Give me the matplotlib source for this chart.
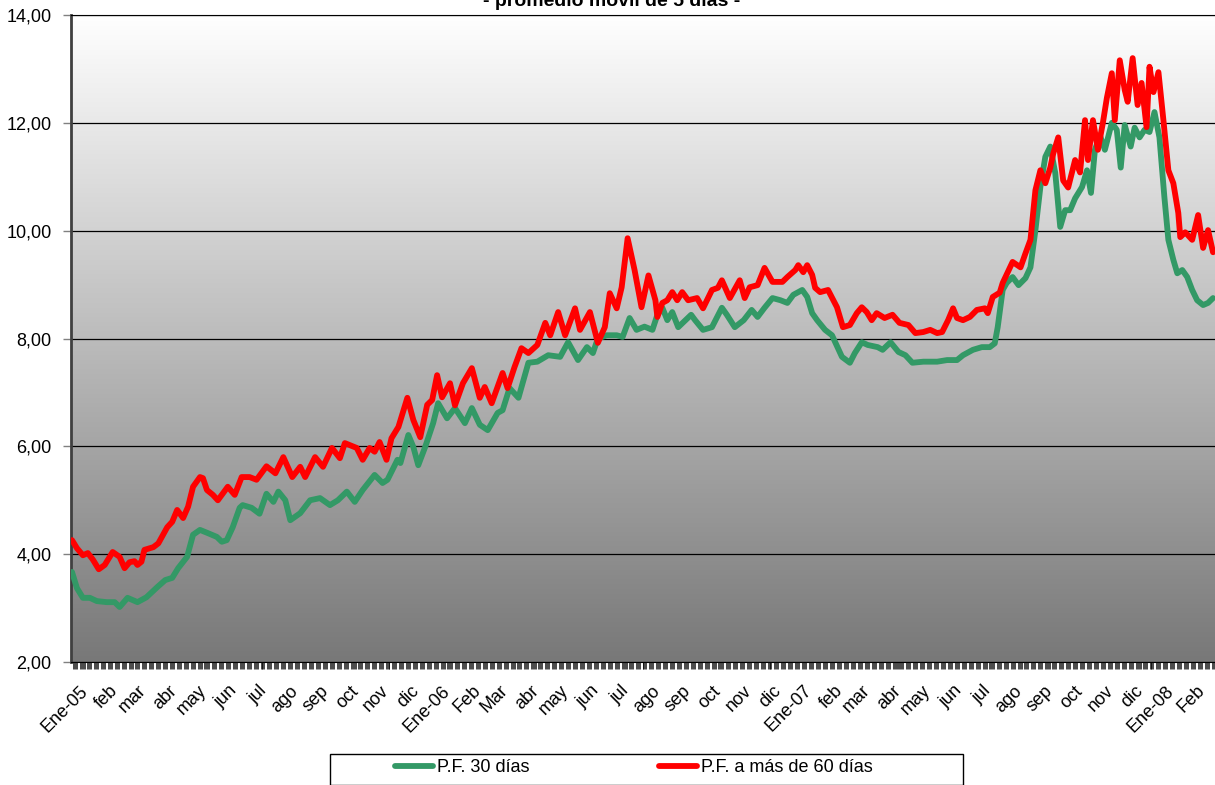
import numpy as np
import pandas as pd
import matplotlib
matplotlib.use("Agg")
import matplotlib.pyplot as plt
import matplotlib.dates as mdates
from matplotlib.colors import LinearSegmentedColormap
from matplotlib.patches import Rectangle
from matplotlib.ticker import FuncFormatter

plt.rcParams['font.family'] = ['Liberation Sans', 'DejaVu Sans']

# --- datos (días desde 01-01-2005, tasa) ---
inicio = pd.Timestamp('2005-01-01')

dias_30 = [-13, -8, -2, 5, 12, 22, 30, 35, 43, 53, 62, 73, 81, 88, 94, 103, 109, 116, 124, 133,
           138, 143, 149, 156, 159, 168, 176, 183, 190, 195, 202, 207, 217, 227, 237, 247, 255, 264,
           272, 280, 292, 300, 305, 315, 318, 326, 331, 336, 343, 351, 356, 365, 373, 383, 390, 398,
           406, 416, 421, 428, 437, 447, 456, 467, 479, 487, 497, 506, 512, 517, 526, 536, 542, 549,
           556, 564, 572, 577, 582, 587, 592, 598, 611, 615, 623, 632, 642, 647, 655, 664, 672, 678,
           685, 693, 701, 708, 714, 723, 728, 733, 738, 746, 753, 763, 771, 776, 783, 789, 799, 804,
           812, 820, 827, 834, 845, 859, 869, 879, 885, 895, 904, 912, 917, 920, 925, 929, 935, 941,
           948, 953, 958, 963, 968, 973, 978, 983, 988, 993, 998, 1005, 1010, 1014, 1018, 1023, 1028,
           1035, 1040, 1044, 1048, 1054, 1058, 1063, 1068, 1073, 1078, 1083, 1088, 1092, 1097, 1101,
           1106, 1111, 1116, 1121, 1127, 1132, 1137]
pf_30 = [3.67, 3.37, 3.19, 3.19, 3.13, 3.11, 3.11, 3.02, 3.19, 3.11, 3.20, 3.39, 3.52, 3.56, 3.74,
         3.95, 4.36, 4.45, 4.39, 4.32, 4.23, 4.26, 4.50, 4.86, 4.91, 4.86, 4.75, 5.12, 4.97, 5.16,
         5.00, 4.63, 4.76, 5.00, 5.04, 4.91, 5.00, 5.16, 4.97, 5.19, 5.47, 5.32, 5.38, 5.75, 5.69,
         6.21, 5.99, 5.65, 5.99, 6.43, 6.80, 6.52, 6.71, 6.43, 6.71, 6.40, 6.30, 6.62, 6.67, 7.08,
         6.90, 7.55, 7.57, 7.69, 7.66, 7.93, 7.60, 7.84, 7.73, 8.00, 8.06, 8.06, 8.03, 8.38, 8.16,
         8.22, 8.16, 8.44, 8.57, 8.34, 8.49, 8.21, 8.44, 8.34, 8.16, 8.21, 8.57, 8.44, 8.21, 8.34,
         8.53, 8.40, 8.57, 8.75, 8.71, 8.66, 8.81, 8.90, 8.77, 8.47, 8.34, 8.16, 8.06, 7.66, 7.55,
         7.73, 7.93, 7.88, 7.84, 7.79, 7.93, 7.75, 7.69, 7.55, 7.57, 7.57, 7.60, 7.60, 7.69, 7.79,
         7.84, 7.84, 7.91, 8.21, 8.90, 9.03, 9.14, 8.99, 9.12, 9.32, 10.01, 10.81, 11.37, 11.56,
         11.07, 10.07, 10.38, 10.38, 10.60, 10.81, 11.12, 10.70, 11.50, 11.77, 11.50, 12.00, 11.87,
         11.17, 11.96, 11.56, 11.91, 11.73, 11.87, 11.83, 12.20, 11.73, 10.62, 9.83, 9.46, 9.21,
         9.27, 9.14, 8.90, 8.71, 8.62, 8.66, 8.75]

dias_60 = [-13, -8, -2, 3, 8, 14, 20, 28, 35, 40, 45, 50, 53, 57, 60, 69, 74, 83, 88, 93, 99, 104,
           109, 116, 119, 123, 129, 134, 144, 151, 158, 166, 173, 183, 192, 200, 209, 217, 222, 232,
           240, 249, 257, 262, 274, 280, 287, 292, 297, 304, 309, 316, 325, 331, 338, 345, 350, 355,
           360, 368, 373, 381, 390, 398, 403, 410, 421, 426, 433, 440, 447, 456, 464, 469, 477, 484,
           494, 499, 509, 517, 524, 529, 536, 541, 547, 554, 561, 568, 575, 577, 582, 587, 592, 597,
           602, 608, 617, 623, 632, 638, 642, 650, 660, 665, 670, 678, 685, 693, 703, 708, 716, 719,
           724, 728, 733, 736, 741, 749, 758, 764, 771, 778, 783, 788, 793, 798, 806, 814, 821, 830,
           837, 845, 852, 859, 864, 870, 875, 879, 885, 892, 899, 907, 910, 915, 922, 925, 935, 943,
           948, 953, 958, 963, 968, 973, 976, 981, 986, 991, 998, 1003, 1008, 1011, 1016, 1021, 1026,
           1030, 1035, 1038, 1043, 1048, 1051, 1056, 1061, 1065, 1070, 1073, 1077, 1082, 1087, 1092,
           1097, 1102, 1104, 1109, 1116, 1122, 1127, 1132, 1137]
pf_60 = [4.26, 4.11, 3.98, 4.02, 3.90, 3.72, 3.80, 4.04, 3.95, 3.74, 3.85, 3.87, 3.80, 3.86, 4.08,
         4.13, 4.20, 4.50, 4.60, 4.82, 4.67, 4.88, 5.25, 5.43, 5.41, 5.19, 5.10, 5.00, 5.25, 5.10,
         5.43, 5.43, 5.38, 5.63, 5.50, 5.80, 5.43, 5.62, 5.43, 5.80, 5.62, 5.97, 5.78, 6.06, 5.97,
         5.75, 5.97, 5.90, 6.08, 5.75, 6.15, 6.36, 6.90, 6.49, 6.17, 6.77, 6.86, 7.32, 6.91, 7.17,
         6.76, 7.17, 7.45, 6.90, 7.10, 6.80, 7.36, 7.08, 7.47, 7.82, 7.73, 7.88, 8.29, 8.06, 8.49,
         8.06, 8.56, 8.16, 8.49, 7.92, 8.21, 8.84, 8.56, 8.95, 9.86, 9.27, 8.58, 9.17, 8.71, 8.40,
         8.66, 8.71, 8.86, 8.71, 8.86, 8.71, 8.75, 8.56, 8.90, 8.94, 9.08, 8.75, 9.08, 8.75, 8.95,
         8.99, 9.31, 9.05, 9.05, 9.14, 9.27, 9.36, 9.23, 9.36, 9.18, 8.94, 8.86, 8.90, 8.58, 8.21,
         8.25, 8.47, 8.58, 8.49, 8.34, 8.47, 8.38, 8.44, 8.29, 8.25, 8.10, 8.12, 8.16, 8.10, 8.12,
         8.34, 8.56, 8.38, 8.34, 8.40, 8.53, 8.56, 8.47, 8.77, 8.85, 9.03, 9.42, 9.32, 9.58, 9.83,
         10.75, 11.12, 10.88, 11.17, 11.43, 11.73, 10.93, 10.80, 11.31, 11.08, 12.05, 11.31, 12.05,
         11.50, 12.00, 12.46, 12.92, 12.05, 13.16, 12.61, 12.39, 13.20, 12.33, 12.74, 11.92, 13.04,
         12.57, 12.94, 12.05, 11.12, 10.88, 10.33, 9.88, 9.97, 9.83, 10.29, 9.68, 10.01, 9.60]

meses = ['Ene-05', 'feb', 'mar', 'abr', 'may', 'jun', 'jul', 'ago', 'sep', 'oct', 'nov', 'dic',
         'Ene-06', 'Feb', 'Mar', 'abr', 'may', 'jun', 'jul', 'ago', 'sep', 'oct', 'nov', 'dic',
         'Ene-07', 'feb', 'mar', 'abr', 'may', 'jun', 'jul', 'ago', 'sep', 'oct', 'nov', 'dic',
         'Ene-08', 'Feb']

fechas_30 = inicio + pd.to_timedelta(dias_30, unit='D')
fechas_60 = inicio + pd.to_timedelta(dias_60, unit='D')
pos_meses = pd.date_range('2005-01-01', periods=len(meses), freq='MS')

# --- figura ---
W, H = 1215, 785
fig = plt.figure(figsize=(W / 100, H / 100), dpi=100)
ax = fig.add_axes([71 / W, 1 - 662 / H, 1 - 71 / W, (662 - 15) / H])

# fondo degradado blanco -> gris
cmap_fondo = LinearSegmentedColormap.from_list('fondo', ['#787878', '#ffffff'])
ax.imshow(np.linspace(1, 0, 256)[:, None], extent=[0, 1, 0, 1], transform=ax.transAxes,
          aspect='auto', cmap=cmap_fondo, zorder=0)

ax.plot(fechas_30, pf_30, color='#339966', lw=4.2, solid_capstyle='round',
        solid_joinstyle='round', zorder=3, label='P.F. 30 días')
ax.plot(fechas_60, pf_60, color='#ff0000', lw=4.2, solid_capstyle='round',
        solid_joinstyle='round', zorder=4, label='P.F. a más de 60 días')

ax.set_autoscale_on(False)
ax.set_xlim(inicio - pd.Timedelta(days=14), inicio + pd.Timedelta(days=1139))
ax.set_ylim(2, 14)

# ejes
ax.set_yticks(np.arange(2, 15, 2))
ax.yaxis.set_major_formatter(FuncFormatter(lambda v, p: f'{v:.2f}'.replace('.', ',')))
ax.grid(axis='y', color='#000000', lw=0.9, zorder=1)
ax.tick_params(axis='y', length=6, width=1, color='#808080', pad=8, labelsize=13)

ax.set_xticks(pos_meses)
ax.set_xticklabels(meses, rotation=45, ha='right', va='center', rotation_mode='anchor')
ax.xaxis.set_minor_locator(mdates.WeekdayLocator(byweekday=(0, 1, 2, 3, 4)))
ax.tick_params(axis='x', which='both', length=5, width=0.5, color='#000000')
ax.tick_params(axis='x', which='major', pad=14, labelsize=13)

ax.spines['right'].set_visible(False)
ax.spines['left'].set_color('#404040')
ax.spines['left'].set_linewidth(2)
ax.spines['bottom'].set_color('#000000')
ax.spines['top'].set_color('#000000')

# titulo (cortado arriba como en la imagen)
fig.text(612 / W, 1 - 6 / H, '- promedio móvil de 5 días -', ha='center', va='baseline',
         fontsize=14, fontweight='bold')

# leyenda
fig.patches.append(Rectangle((330 / W, 0), (963 - 330) / W, 1 - 753 / H - 0.001,
                             transform=fig.transFigure, fill=False, edgecolor='#000000', lw=1))
fig.legend(loc='center left', bbox_to_anchor=(395 / W, 1 - 768 / H), ncol=2, frameon=False,
           fontsize=13, handlelength=2.1, handletextpad=0.2, columnspacing=7.2,
           borderpad=0, borderaxespad=0)

fig.savefig('out.png', dpi=100)
